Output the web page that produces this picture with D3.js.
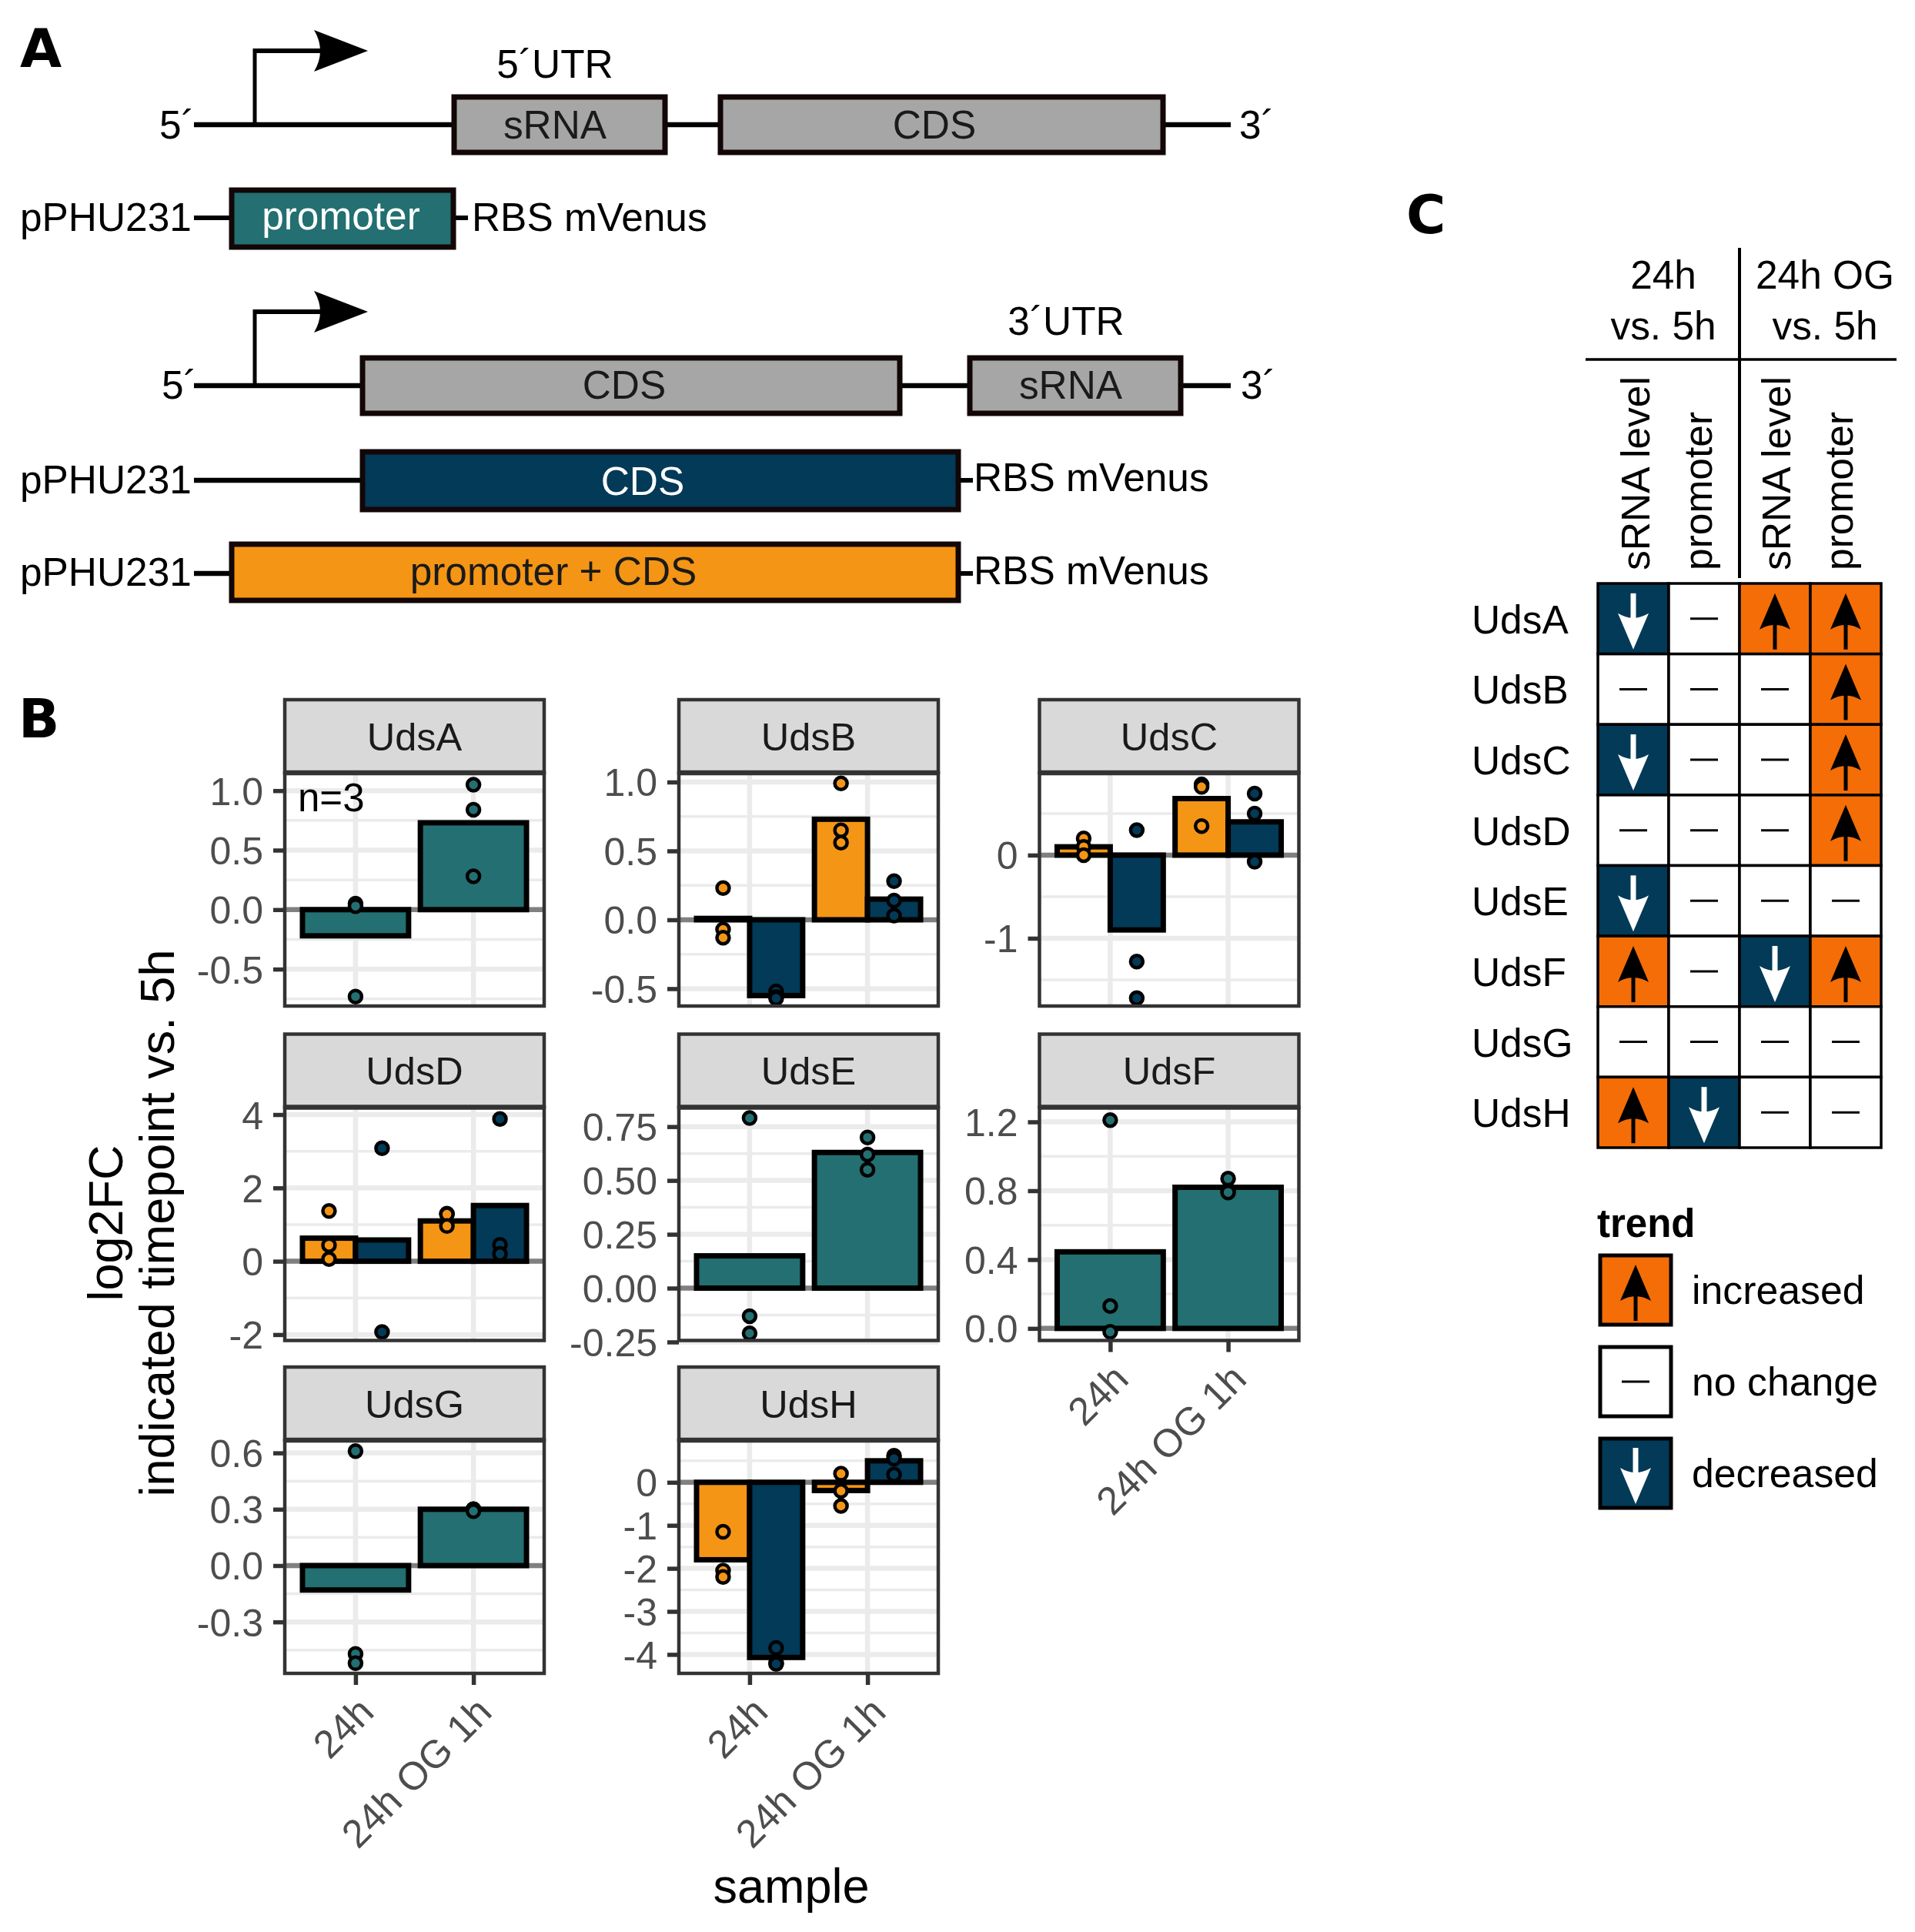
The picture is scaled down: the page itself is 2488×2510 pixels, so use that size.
<!DOCTYPE html>
<html>
<head>
<meta charset="utf-8">
<script src="https://cdn.jsdelivr.net/npm/d3@7/dist/d3.min.js"></script>
<style>
html,body{margin:0;padding:0;background:#fff}
svg{display:block}
text{font-family:"Liberation Sans",Arial,sans-serif}
</style>
</head>
<body>
<svg id="chart" width="2488" height="2510"></svg>
<script>
// ---------- data ----------
const genes = ["UdsA","UdsB","UdsC","UdsD","UdsE","UdsF","UdsG","UdsH"];
const samples = ["24h","24h OG 1h"];
const seriesColors = {promoter:"#236f71", both:"#f49515", cds:"#023a58"};
const geneSeries = [["promoter"],["both","cds"],["both","cds"],["both","cds"],["promoter"],["promoter"],["promoter"],["both","cds"]];
const yDomains = [[-0.81,1.15],[-0.626,1.067],[-1.815,0.99],[-2.16,4.2],[-0.243,0.84],[-0.07,1.285],[-0.574,0.668],[-4.44,0.98]];
const yTicks = [[-0.5,0,0.5,1],[-0.5,0,0.5,1],[-1,0],[-2,0,2,4],[-0.25,0,0.25,0.5,0.75],[0,0.4,0.8,1.2],[-0.3,0,0.3,0.6],[-4,-3,-2,-1,0]];
const yDigits = [1,1,0,0,2,1,1,0];
// bars: gene -> series -> sample
const barValues = [
 [[-0.22,0.73]],
 [[0.01,0.73],[-0.55,0.15]],
 [[0.10,0.68],[-0.90,0.40]],
 [[0.63,1.10],[0.58,1.52]],
 [[0.15,0.63]],
 [[0.445,0.82]],
 [[-0.13,0.30]],
 [[-1.80,-0.19],[-4.07,0.50]]
];
// points: gene -> series -> sample -> replicates
const pointValues = [
 [[[0.05,0.03,-0.73],[1.05,0.84,0.28]]],
 [[[0.23,-0.07,-0.13],[0.99,0.65,0.56]],[[-0.52,-0.56,-0.57],[0.28,0.14,0.03]]],
 [[[0.20,0.10,0.00],[0.85,0.82,0.35]],[[0.30,-1.28,-1.72],[0.74,0.50,-0.08]]],
 [[[1.37,0.44,0.06],[1.30,1.28,0.96]],[[3.08,-1.93],[3.88,0.45,0.20]]],
 [[[0.79,-0.13,-0.21],[0.70,0.62,0.55]]],
 [[[1.21,0.13,-0.02],[0.87,0.80,0.79]]],
 [[[0.61,-0.47,-0.52],[0.30,0.30,0.29]]],
 [[[-1.15,-2.05,-2.20],[0.20,-0.20,-0.55]],[[-3.85,-4.20,-4.22],[0.62,0.55,0.18]]]
];
const trendColumns = ["sRNA level","promoter","sRNA level","promoter"];
const trendMatrix = [
 ["d","n","i","i"],
 ["n","n","n","i"],
 ["d","n","n","i"],
 ["n","n","n","i"],
 ["d","n","n","n"],
 ["i","n","d","i"],
 ["n","n","n","n"],
 ["i","d","n","n"]
];
const trendLabels = {i:"increased",n:"no change",d:"decreased"};
const trendFills = {i:"#f46d06",n:"#ffffff",d:"#023a58"};

// ---------- helpers ----------
const svg = d3.select("#chart");
const FS = 51.4, ink = "#000", boxInk = "#120606";
function label(g,x,y,t,o={}){
  return g.append("text").attr("x",x).attr("y",y).text(t)
    .attr("font-size",o.size||FS).attr("fill",o.fill||"#000")
    .attr("text-anchor",o.anchor||"start").attr("font-weight",o.weight||null)
    .style("font-family",o.family||null);
}
function hline(g,x1,x2,y,w=6.5,c=ink){g.append("line").attr("x1",x1).attr("x2",x2).attr("y1",y).attr("y2",y).attr("stroke",c).attr("stroke-width",w);}
function vline(g,x,y1,y2,w=6.5,c=ink){g.append("line").attr("x1",x).attr("x2",x).attr("y1",y1).attr("y2",y2).attr("stroke",c).attr("stroke-width",w);}
function box(g,x0,x1,y0,y1,fill){g.append("rect").attr("x",x0).attr("y",y0).attr("width",x1-x0).attr("height",y1-y0).attr("fill",fill).attr("stroke",boxInk).attr("stroke-width",7);}

// panel letters
const letters = [["A",26,87],["B",24,958],["C",1827,303]];
letters.forEach(l=>label(svg,l[1],l[2],l[0],{size:70,weight:"bold",family:"'DejaVu Sans'"}));

// ---------- panel A ----------
const A = svg.append("g");
function tss(yLine,yTop){
  vline(A,331,yLine,yTop-3,5);
  hline(A,329,420,yTop,6);
  A.append("path").attr("transform",`translate(0,${yTop})`)
   .attr("d","M478,0 L408,-27 Q424,0 408,27 Z").attr("fill","#000");
}
// row 1
hline(A,252,1599,162); tss(162,66);
box(A,590,864,126,198,"#a6a6a6"); box(A,936,1511,126,198,"#a6a6a6");
label(A,721,101,"5´UTR",{anchor:"middle"});
label(A,721,180,"sRNA",{anchor:"middle",fill:"#1a1a1a"});
label(A,1214,180,"CDS",{anchor:"middle",fill:"#1a1a1a"});
label(A,207,180,"5´"); label(A,1610,180,"3´");
// row 2
hline(A,252,300,283,6); hline(A,590,608,283,6);
box(A,301,589,247,321,"#236f71");
label(A,443,298,"promoter",{anchor:"middle",fill:"#fff"});
label(A,26,300,"pPHU231"); label(A,613,300,"RBS mVenus");
// row 3
hline(A,252,1599,501); tss(501,405);
box(A,471,1169,465,537,"#a6a6a6"); box(A,1260,1534,465,537,"#a6a6a6");
label(A,1385,435,"3´UTR",{anchor:"middle"});
label(A,811,518,"CDS",{anchor:"middle",fill:"#1a1a1a"});
label(A,1391,518,"sRNA",{anchor:"middle",fill:"#1a1a1a"});
label(A,210,518,"5´"); label(A,1612,518,"3´");
// row 4
hline(A,252,470,624); hline(A,1246,1264,624,6);
box(A,471,1245,587,662,"#023a58");
label(A,835,643,"CDS",{anchor:"middle",fill:"#fff"});
label(A,26,641,"pPHU231"); label(A,1265,638,"RBS mVenus");
// row 5
hline(A,252,302,745); hline(A,1246,1264,745,6);
box(A,301,1245,707,780,"#f49515");
label(A,719,760,"promoter + CDS",{anchor:"middle",fill:"#1a1a1a"});
label(A,26,761,"pPHU231"); label(A,1265,759,"RBS mVenus");

// ---------- panel B ----------
const panelWidth = 337, stripHeight = 95, panelHeight = 303;
const colLefts = [370,882,1350.5], rowTops = [909,1343.5,1776];
const tickFormat = d => d3.format("."+d+"f");
const x = d3.scalePoint().domain(samples).range([0,panelWidth]).padding(0.6);
const barW = x.step()*0.9;

genes.forEach((gene,i)=>{
  const col = i%3, row = Math.floor(i/3);
  const g = svg.append("g").attr("transform",`translate(${colLefts[col]},${rowTops[row]})`);
  g.append("rect").attr("width",panelWidth).attr("height",stripHeight).attr("fill","#d9d9d9").attr("stroke","#333").attr("stroke-width",4.5);
  label(g,panelWidth/2,stripHeight/2+18,gene,{anchor:"middle",size:50.5,fill:"#1a1a1a"});

  const p = g.append("g").attr("transform",`translate(0,${stripHeight})`);
  const y = d3.scaleLinear().domain(yDomains[i]).range([panelHeight,0]);
  const major = yTicks[i];
  const stp = major[1]-major[0];
  const minor = [major[0]-stp/2].concat(major.map(t=>t+stp/2)).filter(v=>v>yDomains[i][0]&&v<yDomains[i][1]);

  p.selectAll(".minor").data(minor).join("line").attr("class","minor")
   .attr("x1",0).attr("x2",panelWidth).attr("y1",d=>y(d)).attr("y2",d=>y(d)).attr("stroke","#ebebeb").attr("stroke-width",3.5);
  p.selectAll(".major").data(major).join("line").attr("class","major")
   .attr("x1",0).attr("x2",panelWidth).attr("y1",d=>y(d)).attr("y2",d=>y(d)).attr("stroke","#ebebeb").attr("stroke-width",6.5);
  p.selectAll(".vmajor").data(samples).join("line").attr("class","vmajor")
   .attr("x1",d=>x(d)).attr("x2",d=>x(d)).attr("y1",0).attr("y2",panelHeight).attr("stroke","#ebebeb").attr("stroke-width",6.5);
  hline(p,0,panelWidth,y(0),6.5,"#808080");

  const sers = geneSeries[i];
  const dodge = d3.scaleBand().domain(sers).range([-barW/2,barW/2]);
  sers.forEach((s,si)=>{
    p.selectAll(".bar"+si).data(samples).join("rect").attr("class","bar"+si)
     .attr("x",d=>x(d)+dodge(s)).attr("width",dodge.bandwidth())
     .attr("y",(d,j)=>Math.min(y(0),y(barValues[i][si][j])))
     .attr("height",(d,j)=>Math.abs(y(0)-y(barValues[i][si][j])))
     .attr("fill",seriesColors[s]).attr("stroke","#000").attr("stroke-width",7);
  });
  sers.forEach((s,si)=>{
    samples.forEach((smp,j)=>{
      p.selectAll(null).data(pointValues[i][si][j]).join("circle")
       .attr("cx",x(smp)+dodge(s)+dodge.bandwidth()/2).attr("cy",d=>y(d)).attr("r",8)
       .attr("fill",seriesColors[s]).attr("stroke","#000").attr("stroke-width",4.5);
    });
  });
  p.append("rect").attr("width",panelWidth).attr("height",panelHeight).attr("fill","none").attr("stroke","#333").attr("stroke-width",4.5);
  hline(p,0,panelWidth,0,6.5,"#333");

  const yAxis = d3.axisLeft(y).tickValues(major).tickSize(15).tickPadding(13)
    .tickFormat(d=>tickFormat(yDigits[i])(d).replace("\u2212","-"));
  const ax = p.append("g").call(yAxis);
  ax.select(".domain").remove();
  ax.selectAll(".tick line").attr("stroke","#333").attr("stroke-width",5.5);
  ax.selectAll(".tick text").attr("fill","#4d4d4d").attr("font-size",50).style("font-family",'"Liberation Sans"').attr("dy","0.36em");

  if(i>=5){
    const xAxis = d3.axisBottom(x).tickSize(15).tickPadding(8);
    const bx = p.append("g").attr("transform",`translate(0,${panelHeight})`).call(xAxis);
    bx.select(".domain").remove();
    bx.selectAll(".tick line").attr("stroke","#333").attr("stroke-width",5.5);
    bx.selectAll(".tick text").attr("fill","#4d4d4d").attr("font-size",51).style("font-family",'"Liberation Sans"')
      .attr("text-anchor","end").attr("dy",0).attr("y",0)
      .attr("transform","translate(26,53) rotate(-45)");
  }
  if(i==0) label(p,17,50,"n=3",{size:51});
});

label(svg,1028,2472,"sample",{anchor:"middle",size:63});
const yT = svg.append("g").attr("transform","translate(0,1589) rotate(-90)");
label(yT,0,159,"log2FC",{anchor:"middle",size:63});
label(yT,0,226,"indicated timepoint vs. 5h",{anchor:"middle",size:63});

// ---------- panel C ----------
const C = svg.append("g");
const hx = d3.scaleBand().domain(d3.range(4)).range([2076,2444]);
const hy = d3.scaleBand().domain(genes).range([758,1491]);
function arrow(g,cx,cy,kind){
  const a = g.append("g").attr("transform",`translate(${cx},${cy})`);
  if(kind==="i"){
    vline(a,0,0,40,5,"#000");
    a.append("path").attr("d","M0,-33 L-20,14 Q0,2 20,14 Z").attr("fill","#000");
  } else if(kind==="d"){
    vline(a,0,-33,10,7,"#fff");
    a.append("path").attr("d","M0,40 L-20,-7 Q0,5 20,-7 Z").attr("fill","#fff");
  } else {
    hline(a,-18,18,0,3,"#000");
  }
}
trendMatrix.forEach((r,ri)=>r.forEach((k,ci)=>{
  C.append("rect").attr("x",hx(ci)).attr("y",hy(genes[ri])).attr("width",hx.bandwidth()).attr("height",hy.bandwidth())
   .attr("fill",trendFills[k]).attr("stroke","#000").attr("stroke-width",3.5);
  arrow(C,hx(ci)+hx.bandwidth()/2,hy(genes[ri])+hy.bandwidth()/2,k);
}));
genes.forEach(g=>label(C,1912,hy(g)+hy.bandwidth()/2+19,g,{size:51.4}));
vline(C,2260,322,751,4);
hline(C,2060,2464,467,3.5);
const hdr = [[2161,"24h"],[2371,"24h OG"]];
hdr.forEach(h=>{
  label(C,h[0],375,h[1],{anchor:"middle",size:51.4});
  label(C,h[0],441,"vs. 5h",{anchor:"middle",size:51.4});
});
const colBase = [2143,2224,2326,2407];
trendColumns.forEach((t,i)=>{
  C.append("text").attr("transform",`translate(${colBase[i]},741) rotate(-90)`).text(t).attr("font-size",51.5).attr("fill","#000");
});
label(C,2075,1607,"trend",{weight:"bold",size:51});
const legendKinds = ["i","n","d"];
const ly = d3.scalePoint().domain(legendKinds).range([1676,1914]);
legendKinds.forEach(k=>{
  C.append("rect").attr("x",2079).attr("y",ly(k)-45).attr("width",92).attr("height",90).attr("fill",trendFills[k]).attr("stroke","#000").attr("stroke-width",5);
  arrow(C,2125,ly(k),k);
  label(C,2198,ly(k)+18,trendLabels[k],{size:51.8});
});
</script>
</body>
</html>
